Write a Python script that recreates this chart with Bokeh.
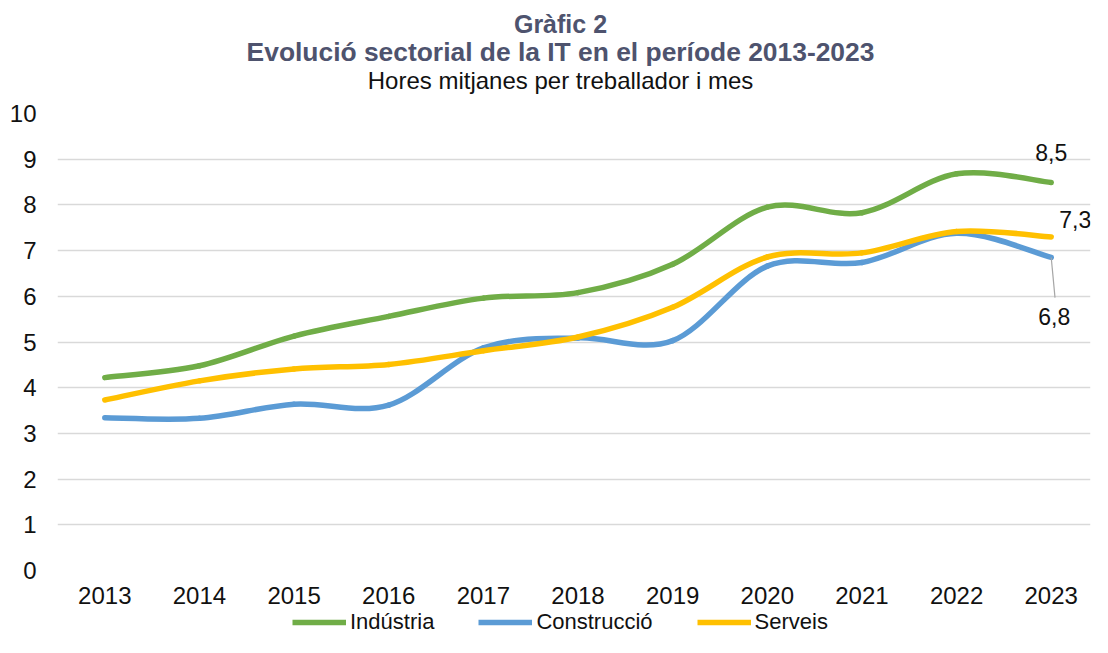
from bokeh.plotting import figure
from bokeh.models import Range1d, FixedTicker, Label, Legend, LegendItem, ColumnDataSource
from bokeh.layouts import column
from bokeh.core.properties import value
from bokeh.embed import file_html
from bokeh.resources import INLINE

years = [2013, 2014, 2015, 2016, 2017, 2018, 2019, 2020, 2021, 2022, 2023]
industria = [4.22, 4.48, 5.13, 5.56, 5.96, 6.08, 6.70, 7.95, 7.83, 8.68, 8.49]
construccio = [3.34, 3.33, 3.64, 3.62, 4.87, 5.09, 5.03, 6.66, 6.74, 7.38, 6.85]
serveis = [3.73, 4.15, 4.41, 4.51, 4.81, 5.11, 5.76, 6.86, 6.95, 7.42, 7.30]
series_names = ["Indústria", "Construcció", "Serveis"]
colors = ["#70AD47", "#5B9BD5", "#FFC000"]
y_ticks = [0, 1, 2, 3, 4, 5, 6, 7, 8, 9, 10]
titles = ["Gràfic 2", "Evolució sectorial de la IT en el període 2013-2023",
          "Hores mitjanes per treballador i mes"]

FONT = "Liberation Sans"
TITLE_COLOR = "#4E536E"
TXT = "#111111"
W = 1092
FRAME_L, FRAME_R = 57, 1090   # frames of all stacked figures are aligned to these


def bare_figure(h, xr, yr):
    f = figure(width=W, height=h, output_backend="svg", toolbar_location=None,
               x_range=xr, y_range=yr, x_axis_type=None, y_axis_type=None,
               min_border=0, min_border_left=FRAME_L, min_border_right=W - FRAME_R,
               min_border_top=0, min_border_bottom=0)
    f.outline_line_color = None
    f.background_fill_color = "white"
    f.border_fill_color = "white"
    return f

# ---------- title block ----------
tf = bare_figure(100, Range1d(FRAME_L, FRAME_R), Range1d(100, 0))
for txt, yy, size, style, col in [
        (titles[0], 23, "25px", "bold", TITLE_COLOR),
        (titles[1], 51, "26.4px", "bold", TITLE_COLOR),
        (titles[2], 79.5, "24px", "normal", TXT)]:
    tf.text(x=[560], y=[yy], text=[txt], text_align="center", text_baseline="middle",
            text_font=value(FONT), text_font_size=size, text_font_style=style, text_color=col)

# ---------- main chart ----------
p = figure(width=W, height=510, output_backend="svg", toolbar_location=None,
           x_range=Range1d(2012.5, 2023.415), y_range=Range1d(0, 10),
           title_location=None,
           min_border_left=FRAME_L, min_border_right=W - FRAME_R, min_border_top=13, min_border_bottom=40)
p.outline_line_color = None
p.background_fill_color = "white"
p.border_fill_color = "white"

p.xgrid.grid_line_color = None
p.ygrid.grid_line_color = "#D9D9D9"
p.ygrid.grid_line_width = 1.5

p.yaxis.ticker = FixedTicker(ticks=y_ticks)
p.xaxis.ticker = FixedTicker(ticks=years)
for ax in (p.xaxis[0], p.yaxis[0]):
    ax.axis_line_color = None
    ax.major_tick_line_color = None
    ax.minor_tick_line_color = None
    ax.major_tick_out = 0
    ax.major_tick_in = 0
    ax.major_label_text_font = FONT
    ax.major_label_text_font_size = "24px"
    ax.major_label_text_color = TXT
p.yaxis.major_label_standoff = 21
p.xaxis.major_label_standoff = 16


def smooth_segments(xs, ys):
    n = len(xs)
    out = dict(x0=[], y0=[], x1=[], y1=[], cx0=[], cy0=[], cx1=[], cy1=[])
    for i in range(n - 1):
        xm, ym = xs[max(i - 1, 0)], ys[max(i - 1, 0)]
        xp, yp = xs[min(i + 2, n - 1)], ys[min(i + 2, n - 1)]
        out["x0"].append(xs[i]); out["y0"].append(ys[i])
        out["x1"].append(xs[i + 1]); out["y1"].append(ys[i + 1])
        out["cx0"].append(xs[i] + (xs[i + 1] - xm) / 6)
        out["cy0"].append(ys[i] + (ys[i + 1] - ym) / 6)
        out["cx1"].append(xs[i + 1] - (xp - xs[i]) / 6)
        out["cy1"].append(ys[i + 1] - (yp - ys[i]) / 6)
    return out

for vals, col in zip([industria, construccio, serveis], colors):
    src = ColumnDataSource(smooth_segments(years, vals))
    p.bezier(x0="x0", y0="y0", x1="x1", y1="y1", cx0="cx0", cy0="cy0", cx1="cx1", cy1="cy1",
             source=src, line_color=col, line_width=5.5, line_cap="round")

# leader line for the Construcció 2023 label
p.segment(x0=[years[-1]], y0=[construccio[-1]], x1=[years[-1] + 0.04], y1=[construccio[-1] - 0.88],
          line_color="#A6A6A6", line_width=1.2)

def fmt(v):
    return f"{v:.1f}".replace(".", ",")

for val, dx, dy in [(industria[-1], 0, 30), (serveis[-1], 24, 17), (construccio[-1], 3, -59)]:
    p.add_layout(Label(x=years[-1], y=val, x_offset=dx, y_offset=dy, text=fmt(val),
                       text_align="center", text_baseline="middle",
                       text_font=FONT, text_font_size="23px", text_color=TXT))

# ---------- legend block ----------
lf = bare_figure(27, Range1d(0, 1), Range1d(0, 1))
items = []
for name, vals, col in zip(series_names, [industria, construccio, serveis], colors):
    # proxy line for the legend swatch; its data lie outside this strip's ranges
    r = lf.line(x=years, y=vals, line_color=col, line_width=5.5)
    items.append(LegendItem(label=name, renderers=[r]))
legend = Legend(items=items, orientation="horizontal", location=(235, 2),
                glyph_width=54, glyph_height=22, label_height=22, label_standoff=4,
                spacing=44, padding=0, margin=0, border_line_color=None,
                background_fill_alpha=0,
                label_text_font=FONT, label_text_font_size="22px", label_text_color=TXT)
lf.add_layout(legend, "center")

layout = column(tf, p, lf, spacing=0)
open("out.html", "w").write(file_html(layout, INLINE))
